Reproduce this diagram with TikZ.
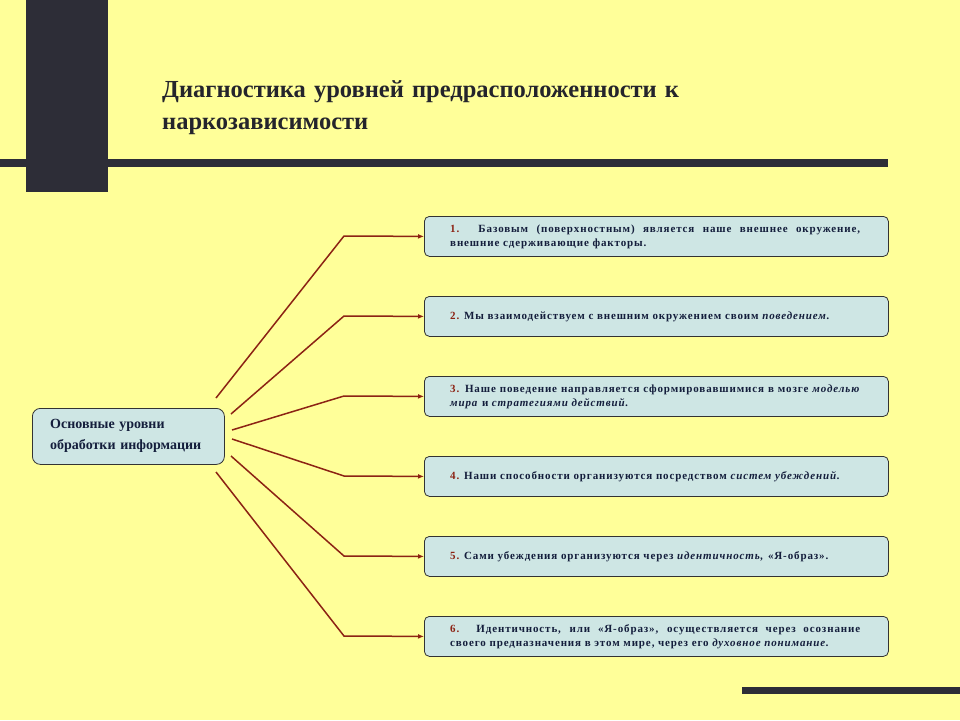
\documentclass[tikz,border=0pt]{standalone}
\usepackage{fontspec}
\setmainfont{Liberation Serif}
\usetikzlibrary{arrows.meta}
\definecolor{bg}{RGB}{255,255,153}
\definecolor{boxf}{RGB}{206,230,228}
\definecolor{ln}{RGB}{140,35,20}
\definecolor{txt}{RGB}{20,30,60}
\definecolor{bar}{RGB}{45,45,55}
\tikzset{
 lvl/.style={draw=black!80,fill=boxf,rounded corners=5pt,line width=0.8pt,minimum width=464pt,minimum height=40pt,anchor=north west},
 inner/.style={text width=410pt,align=justify,font=\bfseries\fontsize{11}{14}\selectfont\addfontfeatures{LetterSpace=8},text=txt,anchor=west,inner sep=0},
 conn/.style={draw=ln,line width=1.5pt},
 arr/.style={-{Latex[length=6pt,width=5pt]}}
}
\newcommand{\nm}[1]{\textcolor{ln}{#1.}}
\begin{document}
\begin{tikzpicture}[x=1pt,y=-1pt]
\useasboundingbox (0,0) rectangle (960,720);
\fill[bg] (0,0) rectangle (960,720);
\fill[bar] (0,159) rectangle (888,167);
\fill[bar] (26,0) rectangle (108,192);
\fill[bar] (742,687) rectangle (960,694);
\node[anchor=north west,text width=700pt,font=\bfseries\fontsize{24.5}{32}\selectfont,text=bar!80!black,inner sep=0] (title) at (162,80) {Диагностика уровней предрасположенности к\\наркозависимости};
\node[draw=black!80,fill=boxf,rounded corners=8pt,line width=0.8pt,minimum width=192pt,minimum height=56pt,anchor=north west] (main) at (32,408) {};
\node[anchor=west,text width=190pt,font=\bfseries\fontsize{14}{21}\selectfont,text=txt,inner sep=0] (maint) at (50,436) {Основные уровни\\обработки информации};
\foreach \i/\y in {1/216,2/296,3/376,4/456,5/536,6/616}{\node[lvl] (b\i) at (424,\y) {};}
\node[inner] at ([xshift=26pt]b1.west) {\nm{1} Базовым (поверхностным) является наше внешнее окружение,\linebreak внешние сдерживающие факторы.};
\node[inner] at ([xshift=26pt]b2.west) {\nm{2} Мы взаимодействуем с внешним окружением своим \textit{поведением.}};
\node[inner] at ([xshift=26pt]b3.west) {\nm{3} Наше поведение направляется сформировавшимися в мозге \textit{моделью}\linebreak \textit{мира} и \textit{стратегиями действий.}};
\node[inner] at ([xshift=26pt]b4.west) {\nm{4} Наши способности организуются посредством \textit{систем убеждений.}};
\node[inner] at ([xshift=26pt]b5.west) {\nm{5} Сами убеждения организуются через \textit{идентичность,} «Я-образ».};
\node[inner] at ([xshift=26pt]b6.west) {\nm{6} Идентичность, или «Я-образ», осуществляется через осознание\linebreak своего предназначения в этом мире, через его \textit{духовное понимание.}};
\coordinate (s1) at (216,398); \coordinate (s2) at (231,414);
\coordinate (s3) at (232,430); \coordinate (s4) at (232,439);
\coordinate (s5) at (231,456); \coordinate (s6) at (216,472);
\foreach \i/\y in {1/236,2/316,3/396,4/476,5/556,6/636}{
 \coordinate (k\i) at (344,\y);
 \draw[conn,arr] (s\i) -- (k\i) -- (b\i.west);
}
\end{tikzpicture}
\end{document}
